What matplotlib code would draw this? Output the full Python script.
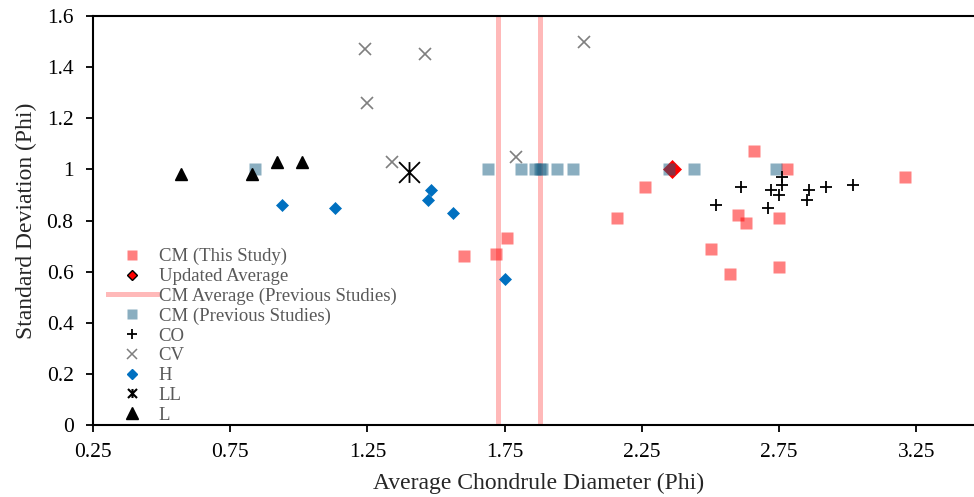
import matplotlib
matplotlib.use("Agg")
import matplotlib.pyplot as plt
from matplotlib.lines import Line2D
from matplotlib.path import Path

plt.rcParams['font.family'] = ['Liberation Serif', 'DejaVu Serif']

# CM (This Study)
cm_this_x = [3.21, 2.66, 2.78, 2.26, 2.16, 2.60, 2.63, 2.75, 1.76, 2.50, 2.57, 2.75, 1.60, 1.72]
cm_this_y = [0.97, 1.07, 1.00, 0.93, 0.81, 0.82, 0.79, 0.81, 0.73, 0.69, 0.59, 0.62, 0.66, 0.67]

# Updated Average
upd_x = [2.36]
upd_y = [1.00]

# CM Average (Previous Studies) - vertical lines
cm_prev_avg = [1.725, 1.878]

# CM (Previous Studies)
cm_prev_x = [0.84, 1.69, 1.81, 1.86, 1.88, 1.885, 1.94, 2.00, 2.35, 2.44, 2.74]
cm_prev_y = [1.00, 1.00, 1.00, 1.00, 1.00, 1.00, 1.00, 1.00, 1.00, 1.00, 1.00]

# CO
co_x = [2.61, 2.52, 2.72, 2.76, 2.76, 2.75, 2.71, 2.86, 2.85, 2.92, 3.02]
co_y = [0.93, 0.86, 0.92, 0.97, 0.94, 0.90, 0.85, 0.92, 0.88, 0.93, 0.94]

# CV
cv_x = [1.24, 1.46, 1.25, 1.34, 1.79, 2.04]
cv_y = [1.47, 1.45, 1.26, 1.03, 1.05, 1.50]

# H
h_x = [0.94, 1.13, 1.48, 1.47, 1.56, 1.75]
h_y = [0.86, 0.85, 0.92, 0.88, 0.83, 0.57]

# LL
ll_x = [1.40]
ll_y = [0.99]

# L
l_x = [0.57, 0.83, 0.92, 1.01]
l_y = [0.98, 0.98, 1.03, 1.03]

xticks = [0.25, 0.75, 1.25, 1.75, 2.25, 2.75, 3.25]
yticks = [0, 0.2, 0.4, 0.6, 0.8, 1, 1.2, 1.4, 1.6]

pink = '#FF0000'
line_pink = '#FFB9B9'
steel = '#175F83'
blue = '#0070C0'
grey = '#7F7F7F'

# X with a vertical bar (star marker)
star = Path([(-1, -1), (1, 1), (-1, 1), (1, -1), (0, -1), (0, 1)],
            [Path.MOVETO, Path.LINETO, Path.MOVETO, Path.LINETO, Path.MOVETO, Path.LINETO])

fig = plt.figure(figsize=(9.74, 4.97), dpi=100)
ax = fig.add_axes([93 / 974, 1 - 425 / 497, (985 - 93) / 974, (425 - 16) / 497])

for xv in cm_prev_avg:
    ax.axvline(xv, color=line_pink, lw=3.6, zorder=1)

ax.plot(cm_this_x, cm_this_y, ls='none', marker='s', ms=8.6, mfc=pink, mec='none', alpha=0.5, zorder=2)
ax.plot(upd_x, upd_y, ls='none', marker='D', ms=9.0, mfc='#FF0000', mec='#FF0000', mew=0.5, zorder=3)
ax.plot(cm_prev_x, cm_prev_y, ls='none', marker='s', ms=8.8, mfc=steel, mec='none', alpha=0.5, zorder=4)
ax.plot(co_x, co_y, ls='none', marker='+', ms=8.4, mec='black', mew=1.3, zorder=5)
ax.plot(cv_x, cv_y, ls='none', marker='x', ms=8.6, mec=grey, mew=1.2, zorder=5)
ax.plot(h_x, h_y, ls='none', marker='D', ms=6.0, mfc=blue, mec=blue, mew=0.5, zorder=5)
ax.plot(ll_x, ll_y, ls='none', marker=star, ms=15, mec='black', mew=1.3, zorder=5)
ax.plot(l_x, l_y, ls='none', marker='^', ms=9.2, mfc='black', mec='black', zorder=5)

ax.set_xlim(0.25, 3.5)
ax.set_ylim(0, 1.6)
ax.set_xticks(xticks)
ax.set_xticklabels([f"{t:.2f}" for t in xticks])
ax.set_yticks(yticks)
ax.set_yticklabels(["0", "0.2", "0.4", "0.6", "0.8", "1", "1.2", "1.4", "1.6"])

ax.tick_params(axis='both', direction='out', length=5, width=1.3, labelsize=15.5, colors='black')
ax.tick_params(axis='x', pad=8)
ax.tick_params(axis='y', pad=9)
for side in ['left', 'bottom', 'top']:
    ax.spines[side].set_linewidth(1.5)
    ax.spines[side].set_color('black')
ax.spines['right'].set_visible(False)

ax.set_xlabel('Average Chondrule Diameter (Phi)', fontsize=17, color='#262626', labelpad=8)
ax.set_ylabel('Standard Deviation (Phi)', fontsize=17, color='#262626', labelpad=7)

handles = [
    Line2D([], [], ls='none', marker='s', ms=7.7, mfc=pink, mec='none', alpha=0.5),
    Line2D([], [], ls='none', marker='D', ms=5.5, mfc='#FF0000', mec='black', mew=1.0),
    Line2D([], [], color=line_pink, lw=3.6),
    Line2D([], [], ls='none', marker='s', ms=7.7, mfc=steel, mec='none', alpha=0.5),
    Line2D([], [], ls='none', marker='+', ms=6.5, mec='black', mew=1.3),
    Line2D([], [], ls='none', marker='x', ms=6.5, mec=grey, mew=1.1),
    Line2D([], [], ls='none', marker='D', ms=5.6, mfc=blue, mec=blue),
    Line2D([], [], ls='none', marker=star, ms=6.5, mec='black', mew=1.5),
    Line2D([], [], ls='none', marker='^', ms=8, mfc='black', mec='black'),
]
labels = ['CM (This Study)', 'Updated Average', 'CM Average (Previous Studies)',
          'CM (Previous Studies)', 'CO', 'CV', 'H', 'LL', 'L']
leg = fig.legend(handles, labels, loc='upper left', bbox_to_anchor=(108 / 974, 1 - 248 / 497),
                 frameon=False, fontsize=13.5, handlelength=2.6, handletextpad=0.1,
                 labelspacing=0.14, borderpad=0, borderaxespad=0)
for t in leg.get_texts():
    t.set_color('#595959')

fig.savefig('out.png', dpi=100)
